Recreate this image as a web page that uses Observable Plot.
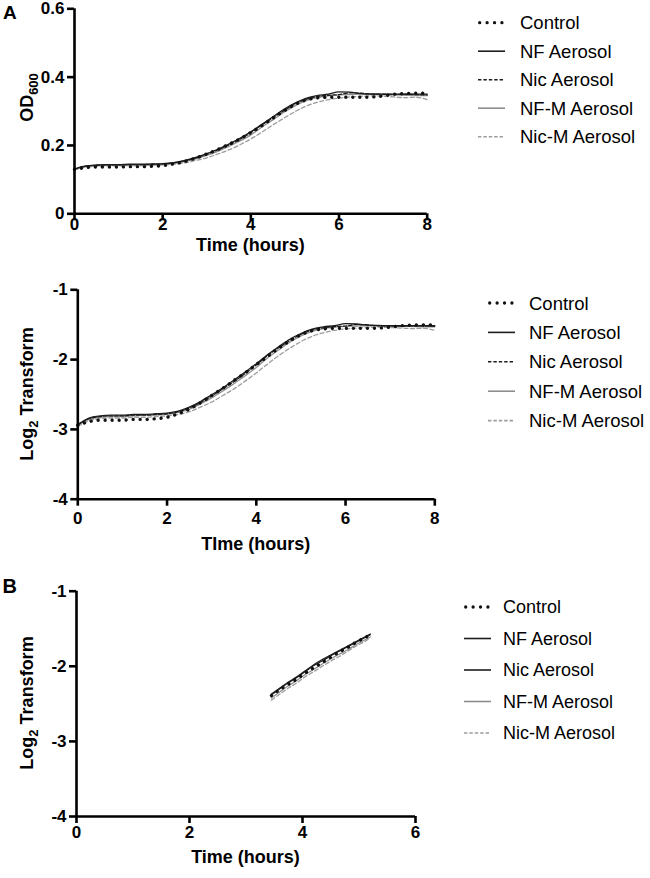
<!DOCTYPE html>
<html><head><meta charset="utf-8">
<script src="https://cdn.jsdelivr.net/npm/d3@7"></script>
<script src="https://cdn.jsdelivr.net/npm/@observablehq/plot@0.6"></script>
<style>
body{margin:0;background:#fff;}
#root{position:relative;width:650px;height:878px;overflow:hidden;font-family:"Liberation Sans",Arial,sans-serif;}
#root > svg{position:absolute;left:0;}
</style></head><body><div id="root"></div>
<script>
// ---------- DATA ----------
const seriesNames = ["Control", "NF Aerosol", "Nic Aerosol", "NF-M Aerosol", "Nic-M Aerosol"];

// Panel A (top): OD600 vs time
const timesA = [0,0.25,0.5,0.75,1,1.25,1.5,1.75,2,2.25,2.5,2.75,3,3.25,3.5,3.75,4,4.25,4.5,4.75,5,5.25,5.5,5.75,6,6.25,6.5,6.75,7,7.25,7.5,7.75,8];
const odControl = [0.130,0.135,0.137,0.137,0.137,0.138,0.138,0.139,0.141,0.146,0.153,0.163,0.175,0.188,0.203,0.219,0.238,0.258,0.280,0.301,0.320,0.333,0.339,0.341,0.341,0.341,0.341,0.342,0.345,0.350,0.352,0.353,0.353];
const odNF      = [0.131,0.140,0.143,0.144,0.144,0.145,0.145,0.146,0.147,0.150,0.156,0.165,0.176,0.189,0.204,0.221,0.240,0.262,0.284,0.306,0.324,0.338,0.346,0.350,0.357,0.356,0.352,0.351,0.350,0.350,0.350,0.350,0.350];
const odNic     = [0.131,0.139,0.142,0.143,0.143,0.144,0.144,0.145,0.146,0.149,0.155,0.163,0.174,0.187,0.201,0.218,0.237,0.260,0.281,0.302,0.321,0.335,0.343,0.347,0.349,0.354,0.353,0.350,0.350,0.349,0.350,0.349,0.348];
const odNFM     = [0.130,0.138,0.141,0.142,0.142,0.143,0.144,0.144,0.145,0.148,0.153,0.161,0.171,0.183,0.197,0.213,0.231,0.254,0.275,0.297,0.316,0.331,0.340,0.345,0.348,0.349,0.350,0.349,0.348,0.348,0.347,0.346,0.346];
const odNicM    = [0.129,0.136,0.139,0.140,0.140,0.141,0.141,0.142,0.143,0.145,0.149,0.156,0.164,0.175,0.187,0.202,0.219,0.239,0.260,0.280,0.299,0.315,0.326,0.334,0.339,0.342,0.344,0.345,0.344,0.342,0.340,0.341,0.334];

// Panel A (middle): Log2 transform vs time
const timesL = timesA;
const lgControl = [-2.943,-2.889,-2.868,-2.868,-2.868,-2.857,-2.857,-2.847,-2.826,-2.776,-2.709,-2.617,-2.515,-2.411,-2.300,-2.191,-2.071,-1.955,-1.837,-1.732,-1.644,-1.586,-1.561,-1.552,-1.552,-1.552,-1.552,-1.548,-1.535,-1.515,-1.506,-1.502,-1.502];
const lgNF      = [-2.932,-2.837,-2.806,-2.796,-2.796,-2.786,-2.786,-2.776,-2.766,-2.737,-2.680,-2.600,-2.506,-2.404,-2.293,-2.178,-2.059,-1.932,-1.816,-1.708,-1.626,-1.565,-1.531,-1.515,-1.486,-1.490,-1.506,-1.511,-1.515,-1.515,-1.515,-1.515,-1.515];
const lgNic     = [-2.932,-2.847,-2.816,-2.806,-2.806,-2.796,-2.796,-2.786,-2.776,-2.747,-2.690,-2.617,-2.523,-2.419,-2.315,-2.198,-2.077,-1.943,-1.831,-1.727,-1.639,-1.578,-1.544,-1.527,-1.519,-1.498,-1.502,-1.515,-1.515,-1.519,-1.515,-1.519,-1.523];
const lgNFM     = [-2.943,-2.857,-2.826,-2.816,-2.816,-2.806,-2.796,-2.796,-2.786,-2.756,-2.709,-2.635,-2.548,-2.450,-2.344,-2.231,-2.114,-1.977,-1.862,-1.751,-1.662,-1.595,-1.556,-1.535,-1.523,-1.519,-1.515,-1.519,-1.523,-1.523,-1.527,-1.531,-1.531];
const lgNicM    = [-2.955,-2.878,-2.847,-2.837,-2.837,-2.826,-2.826,-2.816,-2.806,-2.786,-2.747,-2.680,-2.608,-2.515,-2.419,-2.308,-2.191,-2.065,-1.943,-1.837,-1.742,-1.667,-1.617,-1.582,-1.561,-1.548,-1.540,-1.535,-1.540,-1.548,-1.556,-1.552,-1.582];

// Panel B: Log2 transform, exponential phase
const timesB = [3.45,3.6,3.75,3.9,4.05,4.2,4.35,4.5,4.65,4.8,4.95,5.1,5.2];
const bControl = [-2.39,-2.31,-2.24,-2.17,-2.09,-2.02,-1.95,-1.88,-1.81,-1.75,-1.68,-1.62,-1.58];
const bNF      = [-2.37,-2.29,-2.21,-2.14,-2.06,-1.98,-1.91,-1.85,-1.79,-1.73,-1.67,-1.61,-1.57];
const bNic     = [-2.38,-2.30,-2.22,-2.15,-2.07,-1.99,-1.93,-1.86,-1.80,-1.74,-1.68,-1.62,-1.58];
const bNFM     = [-2.42,-2.34,-2.26,-2.19,-2.11,-2.04,-1.97,-1.90,-1.84,-1.78,-1.71,-1.65,-1.61];
const bNicM    = [-2.45,-2.37,-2.29,-2.22,-2.14,-2.07,-2.00,-1.93,-1.87,-1.80,-1.73,-1.67,-1.62];

const ticksX8 = [0, 2, 4, 6, 8];
const ticksX6 = [0, 2, 4, 6];
const ticksOD = [0, 0.2, 0.4, 0.6];
const ticksLog = [-4, -3, -2, -1];

// ---------- STYLES ----------
const FONT = "'Liberation Sans', Arial, Helvetica, sans-serif";
const styleOf = {
  "Control":       {stroke: "#111", strokeWidth: 3.4, strokeDasharray: "0.01 7", strokeLinecap: "round"},
  "NF Aerosol":    {stroke: "#1c1c1c", strokeWidth: 1.3},
  "Nic Aerosol":   {stroke: "#1c1c1c", strokeWidth: 1.3, strokeDasharray: "3.5 2"},
  "NF-M Aerosol":  {stroke: "#8e8e8e", strokeWidth: 1.3},
  "Nic-M Aerosol": {stroke: "#9c9c9c", strokeWidth: 1.3, strokeDasharray: "4 2.5"}
};
const drawOrder = ["Nic-M Aerosol", "NF-M Aerosol", "Nic Aerosol", "NF Aerosol", "Control"];

function rows(times, arrs) {
  const out = [];
  seriesNames.forEach((s, k) => arrs[k].forEach((v, i) => out.push({t: times[i], v, s})));
  return out;
}

const root = document.getElementById("root");

function makePanel(cfg) {
  const data = rows(cfg.times, cfg.arrays);
  const marks = drawOrder.map(name => {
    const st = Object.assign({}, styleOf[name], (cfg.override || {})[name] || {});
    return Plot.line(data.filter(d => d.s === name), {x: "t", y: "v", curve: "monotone-x", ...st});
  });
  const fig = Plot.plot({
    width: 650, height: cfg.height,
    marginTop: cfg.mt, marginBottom: cfg.mb, marginLeft: cfg.ml, marginRight: cfg.mr,
    x: {domain: cfg.xDomain},
    y: {domain: cfg.yDomain},
    style: {fontFamily: FONT, fontSize: "17px", fontWeight: "bold", color: "#000", background: "transparent", overflow: "visible"},
    marks: [
      ...marks,
      Plot.ruleX([cfg.xDomain[0]], {stroke: "#000", strokeWidth: 2.6}),
      Plot.ruleY([cfg.yDomain[0]], {stroke: "#000", strokeWidth: 2.6}),
      Plot.axisX(cfg.xTicks, {tickSize: 7, strokeWidth: 2.6, tickPadding: cfg.xPad, label: null, tickFormat: d => String(d), fill: "#000"}),
      Plot.axisY(cfg.yTicks, {tickSize: 7, strokeWidth: 2.6, tickPadding: 3, label: null, tickFormat: d => String(d), fill: "#000"})
    ]
  });
  fig.style.top = cfg.top + "px";
  root.appendChild(fig);
  const sx = fig.scale("x");
  const cx = (sx.range[0] + sx.range[1]) / 2;
  const svg = d3.select(fig);
  svg.append("text").attr("x", cx).attr("y", cfg.xLabelY).attr("text-anchor", "middle")
    .attr("font-family", FONT).attr("font-size", 18).attr("font-weight", "bold").attr("fill", "#000")
    .text(cfg.xLabel);
  const yl = svg.append("text").attr("transform", `translate(32.5,${cfg.yLabelCY}) rotate(-90)`)
    .attr("text-anchor", "middle").attr("font-family", FONT).attr("font-size", 18).attr("font-weight", "bold").attr("fill", "#000");
  yl.append("tspan").text(cfg.yLabel[0]);
  yl.append("tspan").attr("dy", 5).attr("font-size", 13).text(cfg.yLabel[1]);
  if (cfg.yLabel[2]) yl.append("tspan").attr("dy", -5).text(cfg.yLabel[2]);
  return fig;
}

makePanel({
  top: 0, height: 256, mt: 8.3, mb: 42.7, ml: 74, mr: 223.3,
  times: timesA, arrays: [odControl, odNF, odNic, odNFM, odNicM],
  xDomain: [0, 8], yDomain: [0, 0.6], xTicks: ticksX8, yTicks: ticksOD, xPad: -3,
  xLabel: "Time (hours)", xLabelY: 250.5, yLabel: ["OD", "600"], yLabelCY: 97.5
});
makePanel({
  top: 260, height: 300, mt: 29.3, mb: 61.3, ml: 77.3, mr: 215.7,
  times: timesL, arrays: [lgControl, lgNF, lgNic, lgNFM, lgNicM],
  xDomain: [0, 8], yDomain: [-4, -1], xTicks: ticksX8, yTicks: ticksLog, xPad: 6,
  xLabel: "TIme (hours)", xLabelY: 290, yLabel: ["Log", "2", " Transform"], yLabelCY: 134
});
makePanel({
  top: 570, height: 308, mt: 20.7, mb: 62, ml: 76, mr: 235,
  times: timesB, arrays: [bControl, bNF, bNic, bNFM, bNicM],
  xDomain: [0, 6], yDomain: [-4, -1], xTicks: ticksX6, yTicks: ticksLog, xPad: 2,
  xLabel: "Time (hours)", xLabelY: 293.3, yLabel: ["Log", "2", " Transform"], yLabelCY: 133,
  override: {"Nic Aerosol": {strokeDasharray: null}}
});

// ---------- OVERLAY: panel letters and legends ----------
const ov = d3.select(root).append("svg").attr("width", 650).attr("height", 878)
  .style("position", "absolute").style("top", "0px").style("left", "0px").style("pointer-events", "none");
ov.append("text").attr("x", 3).attr("y", 18.5).attr("font-family", FONT).attr("font-size", 19).attr("font-weight", "bold").text("A");
ov.append("text").attr("x", 2.5).attr("y", 593).attr("font-family", FONT).attr("font-size", 20).attr("font-weight", "bold").text("B");

function legend(x0, textX, y0, dy, fontSize, override) {
  seriesNames.forEach((name, i) => {
    const cy = y0 + i * dy;
    const st = Object.assign({}, styleOf[name], (override || {})[name] || {});
    const ln = ov.append("line").attr("x1", name === "Control" ? x0 + 1.7 : x0).attr("x2", x0 + 27)
      .attr("y1", cy).attr("y2", cy)
      .attr("stroke", st.stroke).attr("stroke-width", name === "Control" ? 3.3 : 1.6);
    if (st.strokeDasharray) ln.attr("stroke-dasharray", name === "Control" ? "0.01 7.4" : "3.4 2");
    if (st.strokeLinecap) ln.attr("stroke-linecap", st.strokeLinecap);
    ov.append("text").attr("x", textX).attr("y", cy + fontSize * 0.36)
      .attr("font-family", FONT).attr("font-size", fontSize).attr("fill", "#000").text(name);
  });
}
legend(478, 520, 22.7, 28.5, 18.5);
legend(488, 529, 303, 29.4, 18.5);
legend(464, 503, 607, 31.5, 18, {"Nic Aerosol": {strokeDasharray: null}});
</script></body></html>
